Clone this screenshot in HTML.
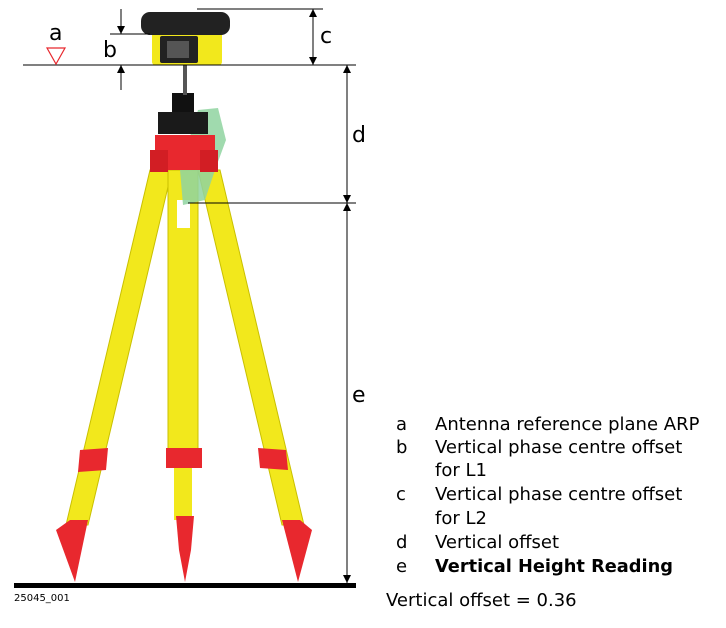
<!DOCTYPE html>
<html><head><style>
body{margin:0;background:#fff;}
svg{display:block;font-family:"DejaVu Sans","Liberation Sans",sans-serif;}
</style></head><body>
<svg width="726" height="628" viewBox="0 0 726 628" xmlns="http://www.w3.org/2000/svg">
<defs>
<marker id="ar" viewBox="0 0 10 10" refX="10" refY="5" markerWidth="8" markerHeight="10" orient="auto-start-reverse" markerUnits="userSpaceOnUse"><path d="M0,0 L10,5 L0,10 z" fill="#000"/></marker>
</defs>
<polygon points="150,170 172,170 88,525 66,525" fill="#f2e81c" stroke="#c9c000" stroke-width="1"/>
<polygon points="198,170 220,170 304,525 282,525" fill="#f2e81c" stroke="#c9c000" stroke-width="1"/>
<rect x="168" y="170" width="30" height="290" fill="#f2e81c" stroke="#c9c000"/>
<rect x="174" y="460" width="18" height="60" fill="#f2e81c"/>
<rect x="177" y="200" width="13" height="28" fill="#fff"/>
<polygon points="198,110 218,108 226,140 215,170 205,200 183,205 180,170" fill="#8fd4a0" opacity="0.85"/>
<polygon points="80,450 108,448 106,470 78,472" fill="#e8282e"/>
<rect x="166" y="448" width="36" height="20" fill="#e8282e"/>
<polygon points="258,448 286,450 288,470 260,468" fill="#e8282e"/>
<polygon points="70,520 88,520 75,582 56,530" fill="#e8282e"/>
<polygon points="176,516 194,516 191,550 185,582 179,550" fill="#e8282e"/>
<polygon points="282,520 300,520 312,530 298,582" fill="#e8282e"/>
<rect x="155" y="135" width="60" height="35" fill="#e8282e"/>
<rect x="150" y="150" width="18" height="22" fill="#d21e24"/>
<rect x="200" y="150" width="18" height="22" fill="#d21e24"/>
<rect x="172" y="93" width="22" height="20" fill="#111"/>
<rect x="158" y="112" width="50" height="22" fill="#1a1a1a"/>
<rect x="183" y="65" width="4" height="30" fill="#555"/>
<rect x="152" y="26" width="70" height="39" rx="3" fill="#f2e81c"/>
<rect x="141" y="12" width="89" height="23" rx="9" fill="#222"/>
<rect x="160" y="36" width="38" height="27" rx="2" fill="#222"/>
<rect x="167" y="41" width="22" height="17" fill="#555"/>
<g stroke="#000" stroke-width="1" fill="none">
<line x1="197" y1="9" x2="323" y2="9"/>
<line x1="23" y1="65" x2="356" y2="65"/>
<line x1="110" y1="34" x2="150" y2="34"/>
<line x1="188" y1="203" x2="356" y2="203"/>
<line x1="121" y1="9" x2="121" y2="34" marker-end="url(#ar)"/>
<line x1="121" y1="90" x2="121" y2="65" marker-end="url(#ar)"/>
<line x1="313" y1="9" x2="313" y2="65" marker-start="url(#ar)" marker-end="url(#ar)"/>
<line x1="347" y1="65" x2="347" y2="203" marker-start="url(#ar)" marker-end="url(#ar)"/>
<line x1="347" y1="203" x2="347" y2="583" marker-start="url(#ar)" marker-end="url(#ar)"/>
</g>
<polygon points="47,48 65,48 56,64" fill="none" stroke="#e8282e" stroke-width="1.2"/>
<rect x="14" y="583" width="342" height="5" fill="#000"/>
<g font-size="22" fill="#000">
<text x="49" y="40">a</text>
<text x="103" y="57">b</text>
<text x="320" y="43">c</text>
<text x="352" y="142">d</text>
<text x="352" y="402">e</text>
</g>
<text x="14" y="601" font-size="10">25045_001</text>
<g font-size="18" fill="#000">
<text x="396" y="430">a</text><text x="435" y="430">Antenna reference plane ARP</text>
<text x="396" y="453">b</text><text x="435" y="453">Vertical phase centre offset</text>
<text x="435" y="476">for L1</text>
<text x="396" y="500">c</text><text x="435" y="500">Vertical phase centre offset</text>
<text x="435" y="524">for L2</text>
<text x="396" y="548">d</text><text x="435" y="548">Vertical offset</text>
<text x="396" y="572">e</text><text x="435" y="572" font-weight="bold" textLength="238" lengthAdjust="spacingAndGlyphs">Vertical Height Reading</text>
<text x="386" y="606">Vertical offset = 0.36</text>
</g>
</svg>
</body></html>
